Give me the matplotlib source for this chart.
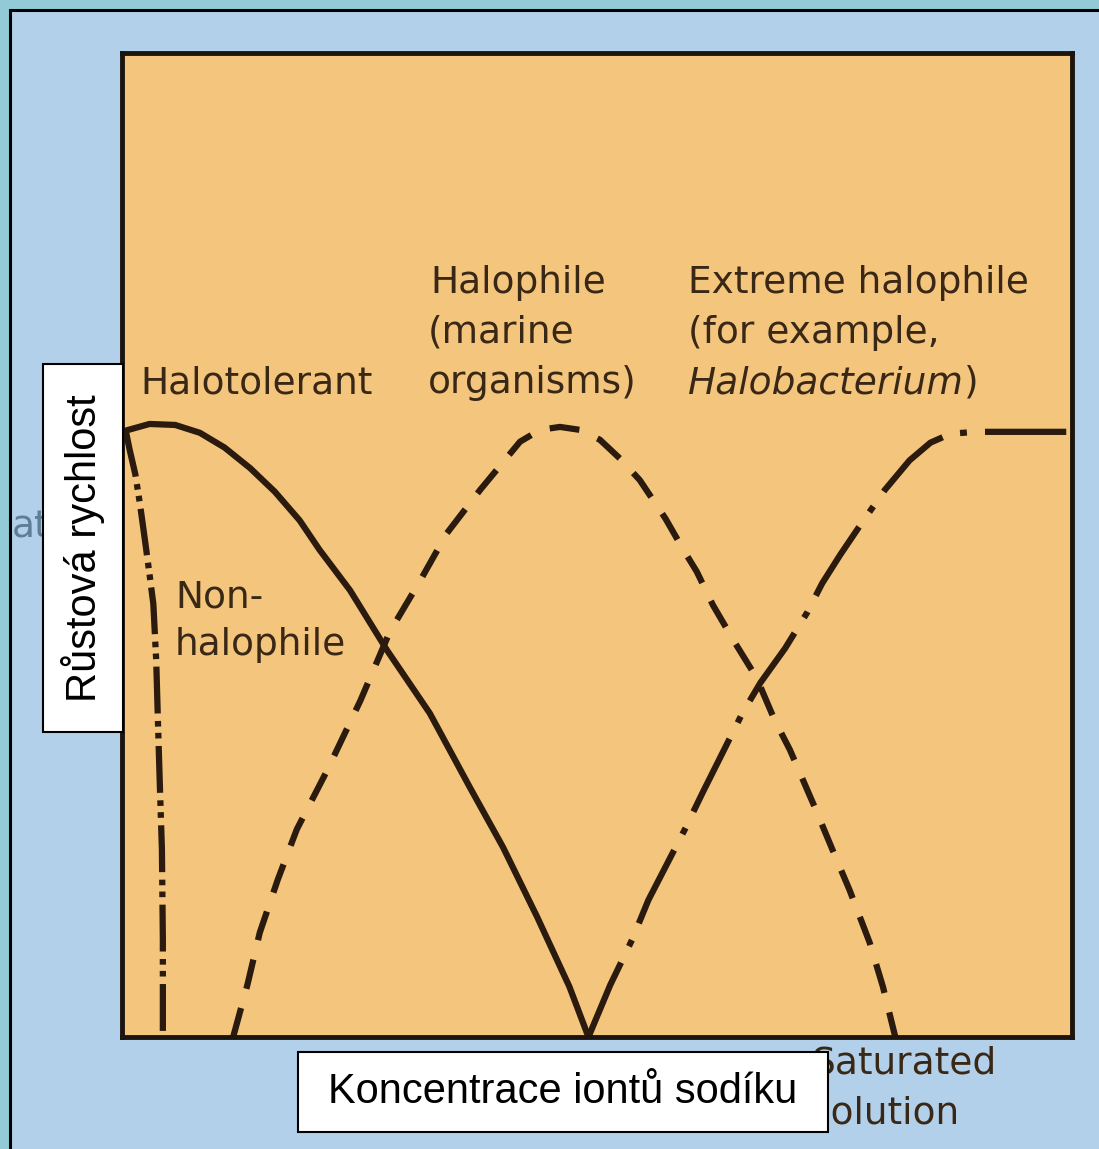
import matplotlib.pyplot as plt
from matplotlib.patches import Rectangle

W, H = 1099, 1149

# growth curves: x = sodium concentration, y = growth rate (0-100 scale)
halotolerant_x = [0.3, 2.9, 5.6, 8.2, 10.8, 13.5, 16.1, 18.7, 20.8, 24.0, 27.9,
                  32.4, 36.6, 40.1, 43.7, 47.1, 49.1]
halotolerant_y = [61.6, 62.3, 62.2, 61.4, 59.9, 57.8, 55.4, 52.5, 49.5, 45.4, 39.3,
                  32.9, 25.4, 19.3, 12.2, 5.1, 0.0]

nonhalophile_x = [0.4, 0.8, 1.4, 1.9, 2.4, 2.9, 3.3, 3.6, 3.8, 4.0, 4.2, 4.3, 4.3]
nonhalophile_y = [61.6, 59.7, 57.2, 54.1, 50.6, 47.0, 44.0, 38.3, 31.5, 25.1, 19.1, 9.9, 0.0]

halophile_x = [11.7, 13.2, 14.5, 16.4, 18.4, 21.6, 25.1, 28.2, 31.4, 34.2, 37.7,
               41.9, 44.0, 46.1, 48.2, 50.3, 52.4, 54.5, 57.2, 59.1, 60.5, 62.2,
               64.5, 66.8, 68.7, 70.3, 72.9, 74.8, 76.6, 78.7, 80.1, 81.4]
halophile_y = [0.0, 5.3, 10.6, 16.0, 21.1, 27.1, 34.2, 41.2, 46.4, 51.2, 55.6,
               60.5, 61.7, 62.0, 61.7, 60.7, 58.8, 56.6, 52.7, 49.5, 47.3, 43.9,
               40.1, 36.5, 32.2, 29.2, 23.4, 19.0, 14.9, 9.6, 5.1, 0.0]

extreme_x = [49.1, 51.4, 53.7, 55.4, 59.3, 61.1, 65.3, 67.2, 69.8, 72.1, 73.7,
             75.6, 77.7, 80.3, 82.9, 85.1, 87.2, 89.8, 99.8]
extreme_y = [0.0, 5.3, 9.9, 13.9, 21.2, 24.8, 32.9, 36.0, 39.5, 43.1, 46.1,
             49.0, 52.0, 55.6, 58.6, 60.4, 61.3, 61.5, 61.5]

ink = '#2b1a0e'
label_ink = '#3a2816'
scan_font = 'DejaVu Sans'

fig = plt.figure(figsize=(W / 100, H / 100), dpi=100)
fig.patch.set_facecolor('#93cad8')

# background panel (pixel coordinates)
bg = fig.add_axes([0, 0, 1, 1])
bg.set_xlim(0, W)
bg.set_ylim(H, 0)
bg.axis('off')
bg.add_patch(Rectangle((10, 10), W, H, facecolor='#b3d0ea', edgecolor='black', lw=2.2))
# leftover of the original axis title, mostly hidden by the white box
bg.text(12, 527, 'ate', ha='left', va='center', fontsize=27,
        color='#5d7e98', family=scan_font)

# the chart itself
ax = fig.add_axes([122 / W, (H - 1037) / H, 950 / W, 984 / H])
ax.set_facecolor('#f4c57d')
ax.set_xlim(0, 100)
ax.set_ylim(0, 100)
ax.set_xticks([])
ax.set_yticks([])
for s in ax.spines.values():
    s.set_linewidth(3.5)
    s.set_color('#1c140e')

lw = 4.5
ax.plot(halotolerant_x, halotolerant_y, color=ink, lw=lw,
        solid_capstyle='round', solid_joinstyle='round')
ax.plot(nonhalophile_x, nonhalophile_y, color=ink, lw=lw,
        dashes=(7.5, 1.2, 0.9, 1.0, 0.9, 1.2))
ax.plot(halophile_x, halophile_y, color=ink, lw=lw, dashes=(4.8, 3.2))
ax.plot(extreme_x, extreme_y, color=ink, lw=lw, dashes=(13, 2.9, 1.1, 2.9))

# overlay for labels and white boxes
ov = fig.add_axes([0, 0, 1, 1], zorder=5)
ov.set_facecolor('none')
ov.set_xlim(0, W)
ov.set_ylim(H, 0)
ov.axis('off')

lab = dict(fontsize=27, color=label_ink, family=scan_font, va='baseline', ha='left')
ov.text(140, 393, 'Halotolerant', **lab)
ov.text(430, 293, 'Halophile', **lab)
ov.text(428, 343, '(marine', **lab)
ov.text(428, 393, 'organisms)', **lab)
ov.text(688, 293, 'Extreme halophile', **lab)
ov.text(688, 343, '(for example,', **lab)
hb = ov.text(688, 393, 'Halobacterium', style='italic', **lab)
ov.annotate(')', xy=(1, 0), xycoords=hb, va='bottom', ha='left',
            fontsize=27, color=label_ink, family=scan_font)
ov.text(175, 608, 'Non-', **lab)
ov.text(175, 655, 'halophile', **lab)
ov.text(811, 1073, 'Saturated', **lab)
ov.text(811, 1124, 'solution', **lab)

ov.add_patch(Rectangle((43, 364), 80, 368, facecolor='white', edgecolor='black', lw=1.5, zorder=4))
ov.text(83, 548, 'Růstová rychlost', rotation=90, ha='center', va='center',
        fontsize=30, family='Liberation Sans', color='black', zorder=5)
ov.add_patch(Rectangle((298, 1052), 530, 80, facecolor='white', edgecolor='black', lw=1.5, zorder=4))
ov.text(563, 1092, 'Koncentrace iontů sodíku', ha='center', va='center',
        fontsize=30, family='Liberation Sans', color='black', zorder=5)

fig.savefig('out.png', dpi=100)
